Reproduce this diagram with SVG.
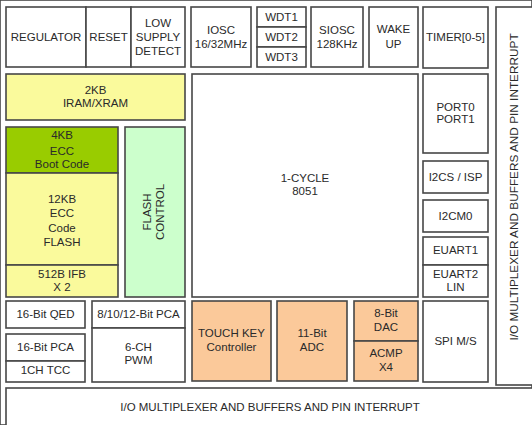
<svg xmlns="http://www.w3.org/2000/svg" width="532" height="425" viewBox="0 0 532 425">
<style>
rect{stroke:#474747;stroke-width:1.6}
.w{fill:#ffffff}
.y{fill:#fafa9c}
.g{fill:#99cc00}
.lg{fill:#ccffcc}
.o{fill:#fbc99a}
text{font-family:"Liberation Sans",Arial,sans-serif;font-size:11.5px;fill:#2a2a2a;text-anchor:middle}
</style>
<rect x="0" y="0" width="532" height="425" fill="#ffffff" stroke="none"/>
<g id="io-vertical"><rect class="w" x="496" y="7" width="40" height="378"/><text transform="translate(518,187) rotate(-90)" style="font-size:11.8px">I/O MULTIPLEXER AND BUFFERS AND PIN INTERRUPT</text></g>
<g id="io-bottom"><rect class="w" x="6" y="388" width="530" height="40"/><text x="270" y="411">I/O MULTIPLEXER AND BUFFERS AND PIN INTERRUPT</text></g>
<g id="regulator"><rect class="w" x="6" y="7" width="80" height="60"/><text x="46" y="41">REGULATOR</text></g>
<g id="reset"><rect class="w" x="86" y="7" width="45" height="60"/><text x="108.5" y="41">RESET</text></g>
<g id="lsd"><rect class="w" x="131" y="7" width="54" height="60"/><text x="158" y="27">LOW</text><text x="158" y="41">SUPPLY</text><text x="158" y="55">DETECT</text></g>
<g id="iosc"><rect class="w" x="191" y="7" width="60" height="60"/><text x="221" y="34">IOSC</text><text x="221" y="48">16/32MHz</text></g>
<g id="wdt1"><rect class="w" x="257" y="7" width="49" height="20"/><text x="281.5" y="21">WDT1</text></g>
<g id="wdt2"><rect class="w" x="257" y="27" width="49" height="20"/><text x="281.5" y="41">WDT2</text></g>
<g id="wdt3"><rect class="w" x="257" y="47" width="49" height="20"/><text x="281.5" y="61">WDT3</text></g>
<g id="siosc"><rect class="w" x="311" y="7" width="52" height="60"/><text x="337" y="34">SIOSC</text><text x="337" y="48">128KHz</text></g>
<g id="wakeup"><rect class="w" x="369" y="7" width="49" height="60"/><text x="393.5" y="33">WAKE</text><text x="393.5" y="48">UP</text></g>
<g id="timer"><rect class="w" x="423" y="7" width="65" height="61"/><text x="455.5" y="41">TIMER[0-5]</text></g>
<g id="iram"><rect class="y" x="6" y="74" width="179" height="46"/><text x="95.5" y="94">2KB</text><text x="95.5" y="107">IRAM/XRAM</text></g>
<g id="cpu"><rect class="w" x="192" y="74" width="226" height="223"/><text x="305" y="182">1-CYCLE</text><text x="305" y="195">8051</text></g>
<g id="port"><rect class="w" x="423" y="74" width="65" height="79"/><text x="455.5" y="111">PORT0</text><text x="455.5" y="123">PORT1</text></g>
<g id="boot"><rect class="g" x="6" y="127" width="112" height="46"/><text x="62" y="139">4KB</text><text x="62" y="155">ECC</text><text x="62" y="168">Boot Code</text></g>
<g id="flash"><rect class="y" x="6" y="173" width="112" height="92"/><text x="62" y="203">12KB</text><text x="62" y="217">ECC</text><text x="62" y="232">Code</text><text x="62" y="246">FLASH</text></g>
<g id="ifb"><rect class="y" x="6" y="265" width="112" height="32"/><text x="62" y="278">512B IFB</text><text x="62" y="291">X 2</text></g>
<g id="flashctl"><rect class="lg" x="125" y="127" width="60" height="170"/><text transform="translate(151,212) rotate(-90)">FLASH</text><text transform="translate(164,212) rotate(-90)">CONTROL</text></g>
<g id="i2cs"><rect class="w" x="423" y="161" width="65" height="32"/><text x="455.5" y="181">I2CS / ISP</text></g>
<g id="i2cm"><rect class="w" x="423" y="200" width="65" height="32"/><text x="455.5" y="220">I2CM0</text></g>
<g id="euart1"><rect class="w" x="423" y="237" width="65" height="28"/><text x="455.5" y="254">EUART1</text></g>
<g id="euart2"><rect class="w" x="423" y="265" width="65" height="32"/><text x="455.5" y="278">EUART2</text><text x="455.5" y="291">LIN</text></g>
<g id="spi"><rect class="w" x="423" y="301" width="65" height="81"/><text x="455.5" y="345">SPI M/S</text></g>
<g id="qed"><rect class="w" x="6" y="301" width="79" height="27"/><text x="45.5" y="318">16-Bit QED</text></g>
<g id="pca16"><rect class="w" x="6" y="334" width="79" height="27"/><text x="45.5" y="351">16-Bit PCA</text></g>
<g id="tcc"><rect class="w" x="6" y="361" width="79" height="21"/><text x="45.5" y="374">1CH TCC</text></g>
<g id="pca"><rect class="w" x="92" y="301" width="93" height="27"/><text x="138.5" y="318">8/10/12-Bit PCA</text></g>
<g id="pwm"><rect class="w" x="92" y="328" width="93" height="54"/><text x="138.5" y="351">6-CH</text><text x="138.5" y="364">PWM</text></g>
<g id="touch"><rect class="o" x="192" y="301" width="79" height="80"/><text x="231.5" y="337">TOUCH KEY</text><text x="231.5" y="351">Controller</text></g>
<g id="adc"><rect class="o" x="277" y="301" width="70" height="80"/><text x="312" y="337">11-Bit</text><text x="312" y="351">ADC</text></g>
<g id="dac"><rect class="o" x="354" y="301" width="64" height="40"/><text x="386" y="317">8-Bit</text><text x="386" y="331">DAC</text></g>
<g id="acmp"><rect class="o" x="354" y="341" width="64" height="40"/><text x="386" y="357">ACMP</text><text x="386" y="371">X4</text></g>
<g id="connectors"></g>
</svg>
